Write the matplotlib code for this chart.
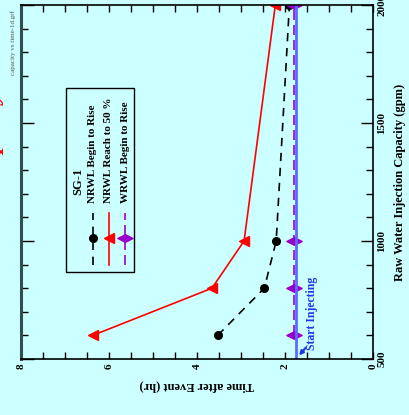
import matplotlib.pyplot as plt
from matplotlib.markers import MarkerStyle
from matplotlib.path import Path
from matplotlib.patches import Rectangle
from matplotlib.ticker import MultipleLocator

plt.rcParams["font.family"] = ["Liberation Serif", "DejaVu Serif"]
plt.rcParams["font.weight"] = "bold"

# injection capacity (gpm) and times after event (hr)
capacity = [600, 800, 1000, 2000]
nrwl_rise = [3.53, 2.47, 2.2, 1.9]
nrwl_half = [6.37, 3.66, 2.93, 2.22]
wrwl_rise = [1.8, 1.8, 1.8, 1.8]
start_injecting = 1.75

time_ticks = [8, 6, 4, 2, 0]
cap_ticks = [500, 1000, 1500, 2000]

bg = "#ccffff"
wide_diamond = MarkerStyle(Path([(-1, 0), (0, 0.5), (1, 0), (0, -0.5), (-1, 0)],
                                [1, 2, 2, 2, 79]))

fig = plt.figure(figsize=(4.10, 4.15), dpi=100, facecolor=bg)
ax = fig.add_axes([21 / 410, 56 / 415, 352 / 410, 354 / 415], facecolor=bg)

ax.plot(nrwl_rise, capacity, color="black", ls=(0, (5, 4)), lw=1.2,
        marker="o", ms=5.5, mfc="black", mec="black")
ax.plot(nrwl_half, capacity, color="red", lw=1.2,
        marker="<", ms=6.5, mfc="red", mec="red")
ax.plot(wrwl_rise, capacity, color="#9900cc", ls=(0, (6, 3)), lw=1.2,
        marker=wide_diamond, ms=11, mfc="#9900cc", mec="#9900cc")
ax.axvline(start_injecting, color="#5b6bff", lw=2)

ax.text(1.38, 540, "Start Injecting", rotation=90, ha="center", va="bottom",
        color="#2233ee", fontsize=8.5, fontweight="bold")
ax.annotate("", xy=(1.68, 515), xytext=(1.53, 548),
            arrowprops=dict(arrowstyle="-|>", color="#2233ee", lw=1.5,
                            mutation_scale=6, shrinkA=0, shrinkB=0))

ax.set_xlim(8, 0)
ax.set_ylim(500, 2000)
ax.set_xticks(time_ticks)
ax.set_xticklabels([str(t) for t in time_ticks], rotation=90)
ax.xaxis.set_minor_locator(MultipleLocator(0.5))
ax.yaxis.tick_right()
ax.yaxis.set_label_position("right")
ax.set_yticks(cap_ticks)
ax.set_yticklabels([str(c) for c in cap_ticks], rotation=90, va="center")
ax.yaxis.set_minor_locator(MultipleLocator(100))
ax.tick_params(which="both", direction="in", top=True, bottom=True,
               left=True, right=True, labelsize=8, width=1, colors="black")
ax.tick_params(which="major", length=9, pad=3)
ax.tick_params(axis="x", which="major", length=5)
ax.tick_params(which="minor", length=5)

ax.set_xlabel("Time after Event (hr)", rotation=180, fontsize=9,
              fontweight="bold", labelpad=8)
ax.set_ylabel("Raw Water Injection Capacity (gpm)", rotation=90, fontsize=9,
              fontweight="bold", labelpad=6)

for side in ["top", "bottom", "right"]:
    ax.spines[side].set_linewidth(1.2)
ax.spines["left"].set_linewidth(2.2)
ax.spines["left"].set_color("#2f4f4f")

# legend box drawn sideways
tr = ax.transAxes
ax.add_patch(Rectangle((0.127, 0.246), 0.194, 0.52, transform=tr,
                       fill=False, ec="black", lw=1, zorder=5))
ax.text(0.162, 0.503, "SG-1", transform=tr, rotation=90, ha="center",
        va="center", fontsize=9, fontweight="bold")
entries = [
    ("NRWL Begin to Rise", "black", (0, (5, 4)), "o", 5.5),
    ("NRWL Reach to 50 %", "red", "-", "<", 6.5),
    ("WRWL Begin to Rise", "#9900cc", (0, (6, 3)), wide_diamond, 11),
]
for i, (name, col, ls, mk, ms) in enumerate(entries):
    x = 0.2045 + i * 0.0455
    ax.text(x, 0.441, name, transform=tr, rotation=90, ha="center",
            va="bottom", fontsize=8, fontweight="bold")
    ax.plot([x, x], [0.266, 0.412], transform=tr, color=col, ls=ls, lw=1.2,
            clip_on=False)
    ax.plot([x], [0.342], transform=tr, color=col, marker=mk, ms=ms,
            mfc=col, mec=col, clip_on=False)

fig.text(13 / 410, 1 - 75 / 415, "capacity vs time-1d.grf", rotation=90,
         ha="center", va="bottom", fontsize=5, color="#555555",
         fontweight="normal")
fig.text(-1 / 410, 1 - 300 / 415, "Raw Water Capacity vs Time", rotation=90,
         rotation_mode="anchor", ha="left", va="baseline", fontsize=18,
         color="red", style="italic", fontweight="bold")

fig.savefig("out.png", dpi=100, facecolor=bg)
